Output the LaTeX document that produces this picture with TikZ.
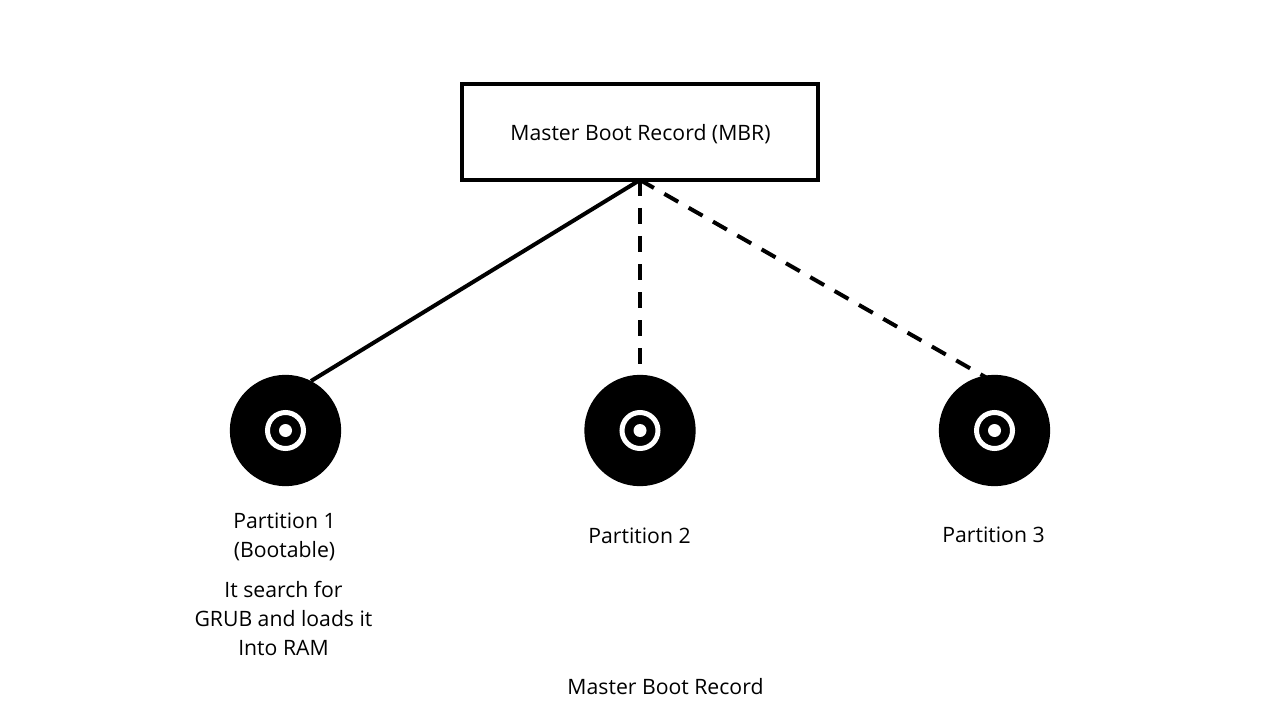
\documentclass[tikz,border=0pt]{standalone}
\usepackage{fontspec}
\setmainfont{Open Sans}
\tikzset{
  px/.style={x=0.75pt,y=-0.75pt},
  mbrbox/.style={draw,line width=3pt,minimum width=267pt,minimum height=72pt,inner sep=0pt},
  disk/.style={circle,fill=black,minimum size=83.5pt,inner sep=0pt},
  diskring/.style={circle,draw=white,line width=3.75pt,fill=black,minimum size=27pt,inner sep=0pt},
  diskhole/.style={circle,fill=white,minimum size=9.75pt,inner sep=0pt},
  link/.style={line width=3pt},
  dashlink/.style={link,dash pattern=on 12pt off 9pt},
  caption/.style={align=center,font=\fontsize{15.9}{21.6}\selectfont}
}
\begin{document}
\begin{tikzpicture}[px]
\useasboundingbox (0,0) rectangle (1280,720);

% MBR box
\node[mbrbox] (mbr) at (640,132) {};
\node[caption] (mbrtext) at (640.5,134) {Master Boot Record (MBR)};
\coordinate (top) at (640,180);

% Disks
\foreach \name/\x in {one/285.5, two/640, three/994.5} {
\node[disk] (\name) at (\x,430.5) {};
\node[diskring] (\name ring) at (\x,430.5) {};
\node[diskhole] (\name hole) at (\x,430.5) {};
}

% Links
\coordinate (endone) at (311,381);
\coordinate (endtwo) at (640,375);
\coordinate (endthree) at (987,378);
\draw[link] (top) -- (endone);
\draw[dashlink] (top) -- (endtwo);
\draw[dashlink] (top) -- (endthree);

% Labels
\node[caption] (labone) at (284.5,536.8) {Partition 1\\(Bootable)};
\node[caption] (labsearch) at (283.5,618.5) {It search for\\GRUB and loads it\\Into RAM};
\node[caption] (labtwo) at (639.5,536) {Partition 2};
\node[caption] (labthree) at (993.5,535) {Partition 3};
\node[caption] (labtitle) at (665.5,686.5) {Master Boot Record};

\end{tikzpicture}
\end{document}
